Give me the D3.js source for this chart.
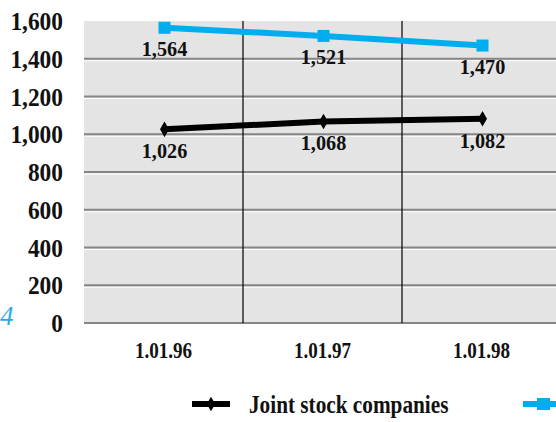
<!DOCTYPE html>
<html>
<head>
<meta charset="utf-8">
<script src="https://cdn.jsdelivr.net/npm/d3@7"></script>
<style>
  body { margin: 0; background: #fff; }
  svg text { font-family: "Liberation Serif", serif; font-weight: bold; fill: #111; }
</style>
</head>
<body>
<svg width="556" height="422"></svg>
<script>
(function () {

  // categories and the two series
  var dates = ['1.01.96', '1.01.97', '1.01.98']
  var jointStock = [1026, 1068, 1082]
  var otherSeries = [1564, 1521, 1470]
  var yTicks = [0, 200, 400, 600, 800, 1000, 1200, 1400, 1600]
  var legendNames = ['Joint stock companies']

  var svg = d3.select('svg')
  var fmt = d3.format(',')

  var left = 84, right = 561, top = 21, bottom = 323

  var x = d3.scaleBand().domain(dates).range([left, right])
  var y = d3.scaleLinear().domain([0, 1600]).range([bottom, top])

  // text helper: squeeze horizontally for the condensed look
  function label(g, txt, px, py, size, anchor, sx) {
    return g.append('text')
      .attr('transform', 'translate(' + px + ',' + py + ') scale(' + sx + ',1)')
      .attr('text-anchor', anchor)
      .style('font-size', size + 'px')
      .text(txt)
  }

  // plot background
  svg.append('rect')
    .attr('x', left).attr('y', top)
    .attr('width', right - left).attr('height', bottom - top)
    .attr('fill', '#e4e4e4')

  // gridlines with a white highlight underneath
  var grid = yTicks.filter(d => d < 1600)
  svg.selectAll('.hl').data(grid.filter(d => d > 0)).enter().append('line')
    .attr('x1', left).attr('x2', right)
    .attr('y1', d => y(d) + 2).attr('y2', d => y(d) + 2)
    .attr('stroke', '#fff').attr('stroke-width', 1.2)
  svg.selectAll('.gl').data(grid).enter().append('line')
    .attr('x1', left).attr('x2', right)
    .attr('y1', d => y(d)).attr('y2', d => y(d))
    .attr('stroke', '#858585').attr('stroke-width', 2)

  // category separators
  svg.selectAll('.sep').data(dates.slice(1)).enter().append('line')
    .attr('x1', d => x(d)).attr('x2', d => x(d))
    .attr('y1', top).attr('y2', bottom)
    .attr('stroke', '#000').attr('stroke-width', 1.2)

  // y axis labels
  var yl = svg.append('g')
  yTicks.forEach(function (t) {
    label(yl, fmt(t), 63, y(t) + 9, 26, 'end', 0.9)
  })

  // x axis labels
  var xl = svg.append('g')
  dates.forEach(function (d) {
    label(xl, d, x(d) + x.bandwidth() / 2, 358, 23, 'middle', 0.83)
  })

  var cx = d => x(d) + x.bandwidth() / 2 + 1
  var line = d3.line().x((d, i) => cx(dates[i])).y(d => y(d))

  // blue series
  svg.append('path').datum(otherSeries)
    .attr('d', line).attr('fill', 'none')
    .attr('stroke', '#00aeef').attr('stroke-width', 6)
  svg.selectAll('.sq').data(otherSeries).enter().append('rect')
    .attr('x', (d, i) => cx(dates[i]) - 6).attr('y', d => y(d) - 6)
    .attr('width', 12).attr('height', 12).attr('fill', '#00aeef')

  // black series
  svg.append('path').datum(jointStock)
    .attr('d', line).attr('fill', 'none')
    .attr('stroke', '#000').attr('stroke-width', 6)
  svg.selectAll('.dm').data(jointStock).enter().append('path')
    .attr('d', d3.symbol().type(d3.symbolDiamond).size(70))
    .attr('transform', (d, i) => 'translate(' + cx(dates[i]) + ',' + y(d) + ')')
    .attr('fill', '#000')

  // data labels
  var dl = svg.append('g')
  otherSeries.forEach(function (v, i) {
    label(dl, fmt(v), cx(dates[i]), y(v) + 28, 22, 'middle', 0.92)
  })
  jointStock.forEach(function (v, i) {
    label(dl, fmt(v), cx(dates[i]), y(v) + 29, 22, 'middle', 0.92)
  })

  // legend
  var lg = svg.append('g')
  lg.append('line').attr('x1', 192).attr('x2', 230).attr('y1', 404).attr('y2', 404)
    .attr('stroke', '#000').attr('stroke-width', 6)
  lg.append('path').attr('d', d3.symbol().type(d3.symbolDiamond).size(60))
    .attr('transform', 'translate(211,404)').attr('fill', '#000')
  label(lg, legendNames[0], 249, 413, 25, 'start', 0.85)
  lg.append('line').attr('x1', 523).attr('x2', 560).attr('y1', 404).attr('y2', 404)
    .attr('stroke', '#00aeef').attr('stroke-width', 6)
  lg.append('rect').attr('x', 537).attr('y', 398).attr('width', 13).attr('height', 12)
    .attr('fill', '#00aeef')

  // stray page number fragment at left edge
  svg.append('text')
    .attr('x', 0).attr('y', 325)
    .style('font-size', '27px').style('font-weight', 'normal').style('font-style', 'italic')
    .style('fill', '#29abe2')
    .text('4')

})()
</script>
</body>
</html>
